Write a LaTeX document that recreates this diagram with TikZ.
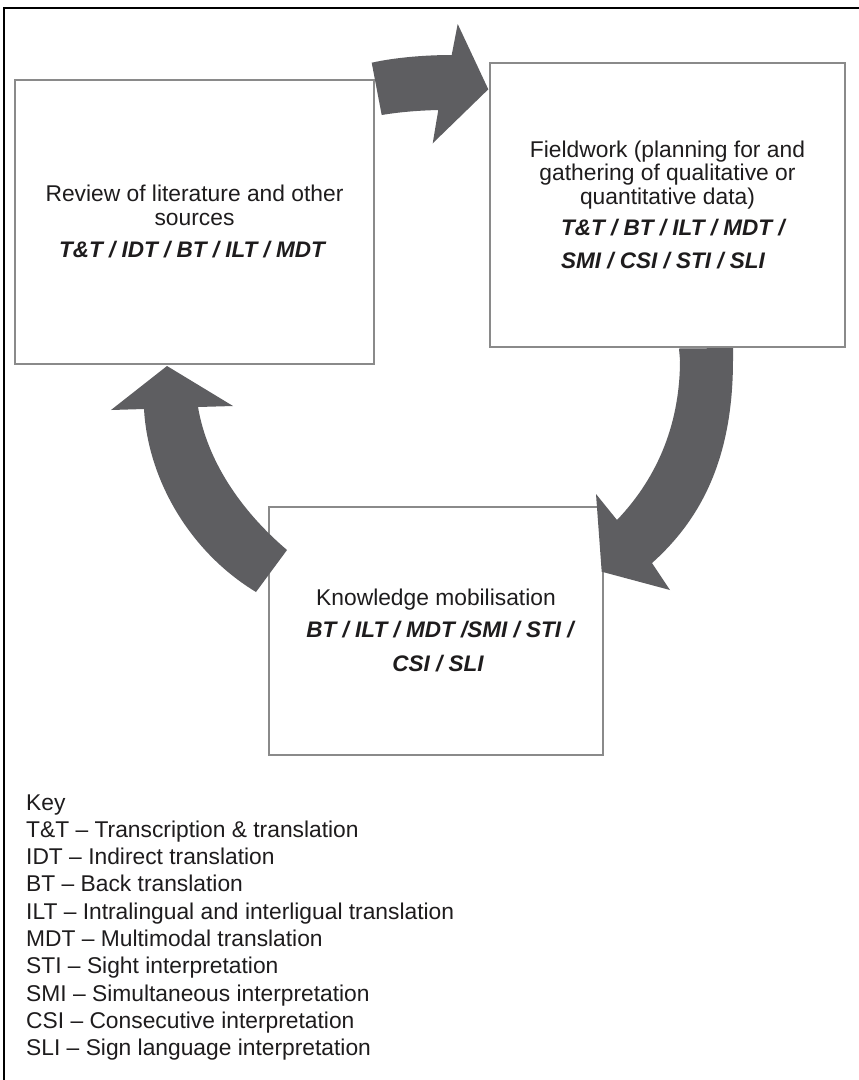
\documentclass[tikz,border=0pt]{standalone}
\usepackage{fontspec}
\setmainfont{Liberation Sans}
\definecolor{arrowc}{RGB}{94,94,97}
\definecolor{boxc}{RGB}{138,138,138}
\definecolor{txt}{RGB}{30,28,29}
\begin{document}
\begin{tikzpicture}[x=1pt,y=-1pt,
  box/.style={draw=boxc, line width=1.4pt, fill=white, inner sep=0, rectangle},
  reg/.style={font=\fontsize{22.8}{24}\selectfont, text=txt, inner sep=0, anchor=base},
  bi/.style={reg, font=\fontsize{22.5}{24}\selectfont\bfseries\itshape},
  keyline/.style={reg, anchor=base west},
  arr/.style={fill=arrowc},
  frame/.style={draw=black, line width=1.3pt}]
\useasboundingbox (0,0) rectangle (859,1080);
\fill[white] (0,0) rectangle (859,1080);
% outer frame
\coordinate (fbl) at (4,1080);
\coordinate (ftl) at (4,8);
\coordinate (ftr) at (859,8);
\draw[frame] (fbl) -- (ftl) -- (ftr);
% boxes
\node[box, minimum width=359pt, minimum height=284pt] (lit) at (194.5,222) {};
\node[box, minimum width=355pt, minimum height=284pt] (field) at (667.5,205) {};
\node[box, minimum width=334pt, minimum height=248pt] (know) at (436,631) {};
% arrows
\fill[arr] (371.7,62.7) .. controls (395,57.5) and (425,55) .. (451.7,55) -- (457.7,24) -- (488.3,89.3) -- (432.7,143.3) -- (438.3,110) .. controls (418,110.5) and (400,112) .. (381.7,115) -- cycle;
\fill[arr] (679,348.5) -- (733,348) -- (733,360) .. controls (733,460) and (700,520) .. (652,563) -- (670,590) -- (601.7,571.7) -- (596,494) -- (617,520) .. controls (660,475) and (680,420) .. (680,360) -- cycle;
\fill[arr] (167,366) -- (111,410) -- (144,409) .. controls (148,480) and (190,552) .. (256,592) -- (287,550) .. controls (240,510) and (207,460) .. (198,407) -- (233,406) -- cycle;
% texts
\node[reg] (lit1) at (194.5,201.5) {Review of literature and other};
\node[reg] (lit2) at (194.5,225) {sources};
\node[bi] (lit3) at (192,257) {T\&T / IDT / BT / ILT / MDT};
\node[reg] (f1) at (667.5,157) {Fieldwork (planning for and};
\node[reg] (f2) at (667.5,180) {gathering of qualitative or};
\node[reg] (f3) at (667.5,204) {quantitative data)};
\node[bi, anchor=base west] (f4) at (561,235) {T\&T / BT / ILT / MDT /};
\node[bi, anchor=base west] (f5) at (561,268) {SMI / CSI / STI / SLI};
\node[reg] (k1) at (436,605) {Knowledge mobilisation};
\node[bi] (k2) at (440,637) {BT / ILT / MDT /SMI / STI /};
\node[bi] (k3) at (438,671) {CSI / SLI};
% key
\node[keyline] (key0) at (26,810) {Key};
\node[keyline] (key1) at (26,837.3) {T\&T – Transcription \& translation};
\node[keyline] (key2) at (26,864.6) {IDT – Indirect translation};
\node[keyline] (key3) at (26,891.9) {BT – Back translation};
\node[keyline] (key4) at (26,919.2) {ILT – Intralingual and interligual translation};
\node[keyline] (key5) at (26,946.5) {MDT – Multimodal translation};
\node[keyline] (key6) at (26,973.8) {STI – Sight interpretation};
\node[keyline] (key7) at (26,1001.1) {SMI – Simultaneous interpretation};
\node[keyline] (key8) at (26,1028.4) {CSI – Consecutive interpretation};
\node[keyline] (key9) at (26,1055.7) {SLI – Sign language interpretation};
\end{tikzpicture}
\end{document}
